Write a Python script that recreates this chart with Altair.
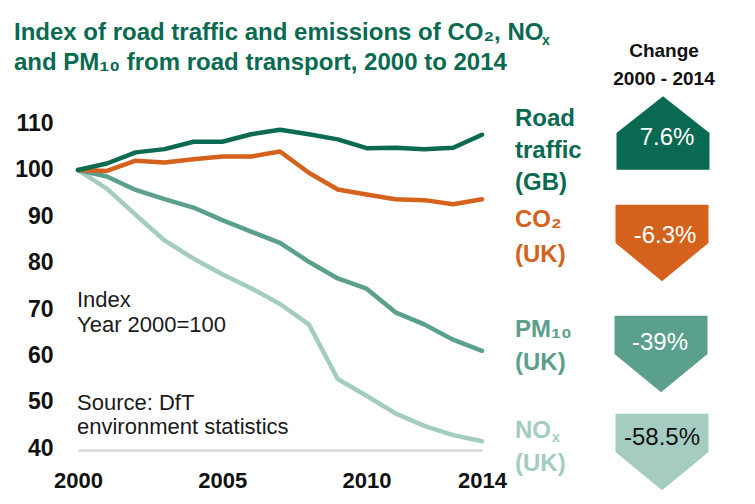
import altair as alt
import pandas as pd

# ---------------- data ----------------
years = list(range(2000, 2015))
road_traffic = [100, 101.4, 103.8, 104.5, 106.1, 106.1, 107.7, 108.7, 107.7, 106.6, 104.7, 104.8, 104.5, 104.8, 107.6]
co2 = [100, 99.8, 102.0, 101.6, 102.3, 102.9, 102.9, 104.0, 99.4, 95.8, 94.7, 93.7, 93.5, 92.6, 93.7]
pm10 = [100, 98.6, 95.7, 93.7, 91.9, 89.2, 86.7, 84.3, 80.2, 76.6, 74.4, 69.3, 66.7, 63.4, 61.0]
nox = [100, 96.0, 90.3, 84.8, 80.9, 77.5, 74.5, 71.1, 66.7, 54.9, 51.3, 47.5, 44.8, 42.8, 41.5]

series_names = ["NOx", "PM10", "CO2", "Road traffic"]
series_values = [nox, pm10, co2, road_traffic]
series_colors = ["#A5CCC1", "#5B9F8D", "#D4621C", "#0B6A50"]

change_labels = ["7.6%", "-6.3%", "-39%", "-58.5%"]
y_ticks = [40, 50, 60, 70, 80, 90, 100, 110]
x_ticks = [2000, 2005, 2010, 2014]

title_lines = ["Index of road traffic and emissions of CO\u2082, NO",
               "and PM\u2081\u2080 from road transport, 2000 to 2014"]

rows = []
for name, vals in zip(series_names, series_values):
    for yr, v in zip(years, vals):
        rows.append({"year": yr, "value": v, "series": name})
df = pd.DataFrame(rows)

# ---------------- layout ----------------
FONT = "Liberation Sans"
OX, OY = 78, 119          # page position of plot origin
W, H = 404, 331
GREEN = "#0A6A51"
ORANGE = "#D4621C"
TEAL = "#5B9F8D"
LIGHT = "#A5CCC1"


def txt(text, px, py, size, color, weight="normal", align="left", baseline="alphabetic"):
    return alt.Chart(alt.Data(values=[{"t": text}])).mark_text(
        align=align, baseline=baseline, fontSize=size, font=FONT,
        fontWeight=weight, color=color
    ).encode(x=alt.value(px - OX), y=alt.value(py - OY), text="t:N")


def arrow(shape, px, py, color):
    return alt.Chart(alt.Data(values=[{"a": 1}])).mark_point(
        shape=shape, filled=True, size=93 * 93, fill=color, opacity=1, strokeWidth=0
    ).encode(x=alt.value(px - OX), y=alt.value(py - OY))


UP = "M0,-0.79L1,0L1,0.79L-1,0.79L-1,0Z"
DOWN = "M-1,-0.82L1,-0.82L1,0L0,0.82L-1,0Z"

lines = alt.Chart(df).mark_line(
    strokeWidth=4.5, strokeCap="round", strokeJoin="round"
).encode(
    x=alt.X("year:Q", scale=alt.Scale(domain=[2000, 2014], nice=False, zero=False),
            axis=alt.Axis(values=x_ticks, format="d", title=None, labelFont=FONT,
                          labelFontSize=22, labelFontWeight="bold", labelColor="#111111",
                          ticks=False, grid=False, domainColor="#D9D9D9", domainWidth=2.5,
                          labelPadding=20, labelFlush=False, labelOverlap=False)),
    y=alt.Y("value:Q", scale=alt.Scale(domain=[39.6, 111], nice=False, zero=False),
            axis=alt.Axis(values=y_ticks, title=None, labelFont=FONT, labelFontSize=23,
                          labelFontWeight="bold", labelColor="#111111", ticks=False,
                          grid=False, domain=False, labelPadding=25, labelFlush=False)),
    color=alt.Color("series:N", scale=alt.Scale(domain=series_names, range=series_colors),
                    legend=None),
    order=alt.Order("year:Q"),
)

layers = [lines]

# title (subscript x drawn as small text)
layers.append(txt(title_lines[0], 14, 40, 24, GREEN, "bold"))
layers.append(txt("x", 542, 45, 14, GREEN, "bold"))
layers.append(txt(title_lines[1], 14, 70, 24, GREEN, "bold"))

# in-plot notes
layers.append(txt("Index", 77, 307, 22, "#1a1a1a"))
layers.append(txt("Year 2000=100", 77, 332, 22, "#1a1a1a"))
layers.append(txt("Source: DfT", 77, 410, 22, "#1a1a1a"))
layers.append(txt("environment statistics", 77, 434, 22, "#1a1a1a"))

# series labels
layers.append(txt("Road", 515, 126, 24, GREEN, "bold"))
layers.append(txt("traffic", 515, 158, 24, GREEN, "bold"))
layers.append(txt("(GB)", 515, 190, 24, GREEN, "bold"))
layers.append(txt("CO\u2082", 515, 227, 24, ORANGE, "bold"))
layers.append(txt("(UK)", 515, 262, 24, ORANGE, "bold"))
layers.append(txt("PM\u2081\u2080", 515, 337, 24, TEAL, "bold"))
layers.append(txt("(UK)", 515, 370, 24, TEAL, "bold"))
layers.append(txt("NO", 515, 438, 24, LIGHT, "bold"))
layers.append(txt("x", 552, 442, 14, LIGHT, "bold"))
layers.append(txt("(UK)", 515, 471, 24, LIGHT, "bold"))

# change header
layers.append(txt("Change", 664, 57, 19, "#111111", "bold", align="center"))
layers.append(txt("2000 - 2014", 664, 85, 19, "#111111", "bold", align="center"))

# arrows
layers.append(arrow(UP, 663, 133, GREEN))
layers.append(arrow(DOWN, 662, 243, ORANGE))
layers.append(arrow(DOWN, 661, 354, TEAL))
layers.append(arrow(DOWN, 662, 452, LIGHT))

layers.append(txt(change_labels[0], 667, 138, 24, "white", align="center", baseline="middle"))
layers.append(txt(change_labels[1], 665, 236, 24, "white", align="center", baseline="middle"))
layers.append(txt(change_labels[2], 660, 343, 24, "white", align="center", baseline="middle"))
layers.append(txt(change_labels[3], 662, 438, 24, "#111111", align="center", baseline="middle"))

chart = alt.layer(*layers).properties(
    width=W, height=H,
    padding={"left": OX - 8, "top": OY - 8, "right": 263, "bottom": 44},
    autosize=alt.AutoSizeParams(type="none"),
    background="white",
).configure_view(strokeWidth=0)

chart.save("out.html", embed_options={"renderer": "svg", "actions": False})
